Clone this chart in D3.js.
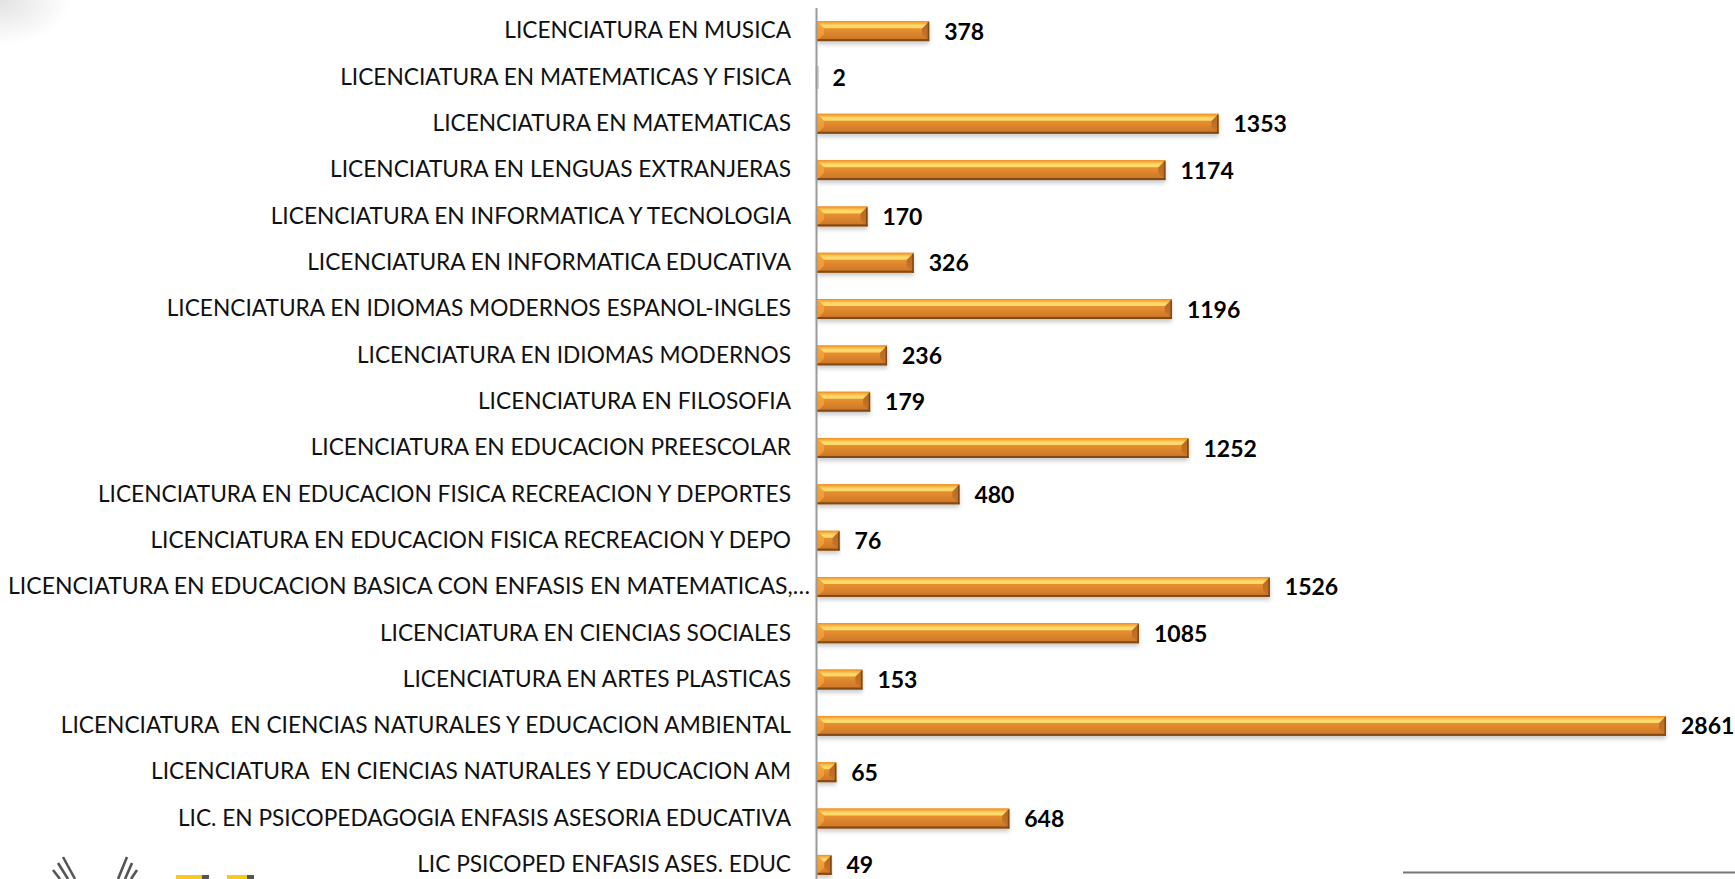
<!DOCTYPE html>
<meta charset="utf-8">
<style>
  html, body { margin: 0; background: #fff; overflow: hidden; }
  text { font-family: Lato, sans-serif; }
</style>
<script src="https://d3js.org/d3.v7.min.js"></script>
<div id="chart"></div>
<script>
// categories, top to bottom
var categories = [
  "LICENCIATURA EN MUSICA",
  "LICENCIATURA EN MATEMATICAS Y FISICA",
  "LICENCIATURA EN MATEMATICAS",
  "LICENCIATURA EN LENGUAS EXTRANJERAS",
  "LICENCIATURA EN INFORMATICA Y TECNOLOGIA",
  "LICENCIATURA EN INFORMATICA EDUCATIVA",
  "LICENCIATURA EN IDIOMAS MODERNOS ESPANOL-INGLES",
  "LICENCIATURA EN IDIOMAS MODERNOS",
  "LICENCIATURA EN FILOSOFIA",
  "LICENCIATURA EN EDUCACION PREESCOLAR",
  "LICENCIATURA EN EDUCACION FISICA RECREACION Y DEPORTES",
  "LICENCIATURA EN EDUCACION FISICA RECREACION Y DEPO",
  "LICENCIATURA EN EDUCACION BASICA CON ENFASIS EN MATEMATICAS,…",
  "LICENCIATURA EN CIENCIAS SOCIALES",
  "LICENCIATURA EN ARTES PLASTICAS",
  "LICENCIATURA  EN CIENCIAS NATURALES Y EDUCACION AMBIENTAL",
  "LICENCIATURA  EN CIENCIAS NATURALES Y EDUCACION AM",
  "LIC. EN PSICOPEDAGOGIA ENFASIS ASESORIA EDUCATIVA",
  "LIC PSICOPED ENFASIS ASES. EDUC"
];
var values = [378, 2, 1353, 1174, 170, 326, 1196, 236, 179, 1252, 480, 76, 1526, 1085, 153, 2861, 65, 648, 49];

var width = 1735, height = 879;
var svg = d3.select("#chart").append("svg")
  .attr("width", width)
  .attr("height", height)
  .style("display", "block");

var x = d3.scaleLinear().domain([0, 2861]).range([817, 1666]);
var y = d3.scaleBand().domain(categories).range([8, 888]).paddingInner(0.57).paddingOuter(0.285);

var defs = svg.append("defs");

// gradients for the bevel: body, lit top, side faces
function vGrad(id, stops) {
  var g = defs.append("linearGradient").attr("id", id).attr("x1", 0).attr("x2", 0).attr("y1", 0).attr("y2", 1);
  g.selectAll("stop").data(stops).enter().append("stop")
    .attr("offset", function(d) { return d[0]; })
    .attr("stop-color", function(d) { return d[1]; });
}
vGrad("bevelBody", [[0, "#f19c35"], [0.45, "#e48c2e"], [1, "#c97327"]]);
vGrad("bevelTop", [[0, "#ec8a22"], [0.28, "#f8b23f"], [0.65, "#fddc70"], [1, "#fdd768"]]);
vGrad("bevelLeft", [[0, "#f6a73c"], [1, "#ee9430"]]);
vGrad("bevelRight", [[0, "#b56a22"], [1, "#c97428"]]);

var blur = defs.append("filter").attr("id", "barShadow").attr("x", "-5%").attr("y", "-30%").attr("width", "110%").attr("height", "180%");
blur.append("feGaussianBlur").attr("stdDeviation", 2);
var soft = defs.append("filter").attr("id", "soft");
soft.append("feGaussianBlur").attr("stdDeviation", 0.7);

// corner shading in the reference background
var corner = defs.append("radialGradient").attr("id", "corner").attr("cx", 0).attr("cy", 0).attr("r", 1);
corner.append("stop").attr("offset", 0).attr("stop-color", "#e2e2e2");
corner.append("stop").attr("offset", 1).attr("stop-color", "#ffffff");
svg.append("rect").attr("width", 70).attr("height", 45).attr("fill", "url(#corner)");

var bevel = 7;   // depth of the mitred top
var bw = y.bandwidth();

function poly(pts) { return d3.line()(pts) + "Z"; }

var rows = svg.selectAll("g.row")
  .data(categories)
  .enter().append("g")
  .attr("class", "row");

// soft shadow under bars
rows.append("rect")
  .attr("x", x(0))
  .attr("y", function(d) { return y(d) + 3; })
  .attr("width", function(d, i) { return x(values[i]) - x(0); })
  .attr("height", bw)
  .attr("fill", "#888")
  .attr("opacity", 0.45)
  .attr("filter", "url(#barShadow)");

// body, the tiny bar only shows as a pale sliver
rows.append("rect")
  .attr("x", x(0))
  .attr("y", function(d) { return y(d); })
  .attr("width", function(d, i) { return x(values[i]) - x(0); })
  .attr("height", bw)
  .attr("fill", function(d, i) { return values[i] > 10 ? "url(#bevelBody)" : "#d9d9d9"; })
  .attr("stroke", function(d, i) { return values[i] > 10 ? "none" : "#d4d4d4"; })
  .attr("stroke-width", 3);

// left and right mitre faces
rows.append("path")
  .attr("d", function(d, i) {
    var x0 = x(0), x1 = x(values[i]), t = y(d);
    var k = Math.min(bevel, (x1 - x0) / 2);
    return poly([[x0, t], [x0 + k, t + k], [x0 + k, t + bw - k], [x0, t + bw]]);
  })
  .attr("fill", function(d, i) { return values[i] > 10 ? "url(#bevelLeft)" : "none"; });
rows.append("path")
  .attr("d", function(d, i) {
    var x0 = x(0), x1 = x(values[i]), t = y(d);
    var k = Math.min(bevel, (x1 - x0) / 2);
    return poly([[x1, t], [x1 - k, t + k], [x1 - k, t + bw - k], [x1, t + bw]]);
  })
  .attr("fill", function(d, i) { return values[i] > 10 ? "url(#bevelRight)" : "none"; });

// lit top face, mitred at both ends
rows.append("path")
  .attr("d", function(d, i) {
    var x0 = x(0), x1 = x(values[i]), t = y(d);
    var k = Math.min(bevel, (x1 - x0) / 2);
    return poly([[x0, t], [x1, t], [x1 - k, t + k], [x0 + k, t + k]]);
  })
  .attr("fill", function(d, i) { return values[i] > 10 ? "url(#bevelTop)" : "none"; });

// dark bottom edge
rows.append("rect")
  .attr("x", x(0))
  .attr("y", function(d) { return y(d) + bw - 2; })
  .attr("width", function(d, i) { return values[i] > 10 ? x(values[i]) - x(0) : 0; })
  .attr("height", 2)
  .attr("fill", "#7f4a15");

// dark right edge
rows.append("rect")
  .attr("x", function(d, i) { return x(values[i]) - 1.5; })
  .attr("y", function(d) { return y(d) + 1; })
  .attr("width", function(d, i) { return values[i] > 10 ? 1.5 : 0; })
  .attr("height", bw - 1)
  .attr("fill", "#7f4a15");

// labels drawn by the axis
var axis = svg.append("g")
  .attr("transform", "translate(816,0)")
  .call(d3.axisLeft(y).tickSize(0).tickPadding(24));
axis.select(".domain").remove();
axis.selectAll("text")
  .style("font-size", function(d) { return d.slice(-1) === "…" ? "23px" : "22.7px"; })
  .style("font-family", "Lato, sans-serif")
  .attr("fill", "#111")
  .style("white-space", "pre")
  // the truncated label runs closer to the axis
  .attr("x", function(d) { return d.slice(-1) === "…" ? -6 : -25; });

svg.append("line")
  .attr("x1", 816.5).attr("x2", 816.5)
  .attr("y1", 8).attr("y2", 879)
  .attr("stroke", "#9a9a9a")
  .attr("stroke-width", 2);

rows.append("text")
  .attr("x", function(d, i) { return x(values[i]) + 15; })
  .attr("y", function(d) { return y(d) + bw / 2 + 0.5; })
  .attr("dy", "0.35em")
  .style("font-size", "23px")
  .style("font-weight", 700)
  .attr("fill", "#000")
  .text(function(d, i) { return values[i]; });

// line at bottom right
svg.append("line")
  .attr("x1", 1403).attr("x2", 1735)
  .attr("y1", 872.5).attr("y2", 872.5)
  .attr("stroke", "#777")
  .attr("stroke-width", 2);

// cut off logo at bottom left: wing feathers and the top of the yellow letters
var logo = svg.append("g").attr("filter", "url(#soft)");
var wings = logo.append("g").attr("fill", "none").attr("stroke", "#555").attr("stroke-width", 2.6);
[[63, 857, 75, 879], [58, 863, 68, 879], [53, 870, 60, 879],
 [127, 857, 118, 879], [132, 863, 125, 879], [137, 870, 131, 879]].forEach(function(w) {
  wings.append("line").attr("x1", w[0]).attr("y1", w[1]).attr("x2", w[2]).attr("y2", w[3]);
});
logo.append("rect").attr("x", 176).attr("y", 875).attr("width", 26).attr("height", 4).attr("fill", "#f6c91e");
logo.append("rect").attr("x", 202).attr("y", 875).attr("width", 7).attr("height", 4).attr("fill", "#555");
logo.append("rect").attr("x", 227).attr("y", 875).attr("width", 20).attr("height", 4).attr("fill", "#f6c91e");
logo.append("rect").attr("x", 247).attr("y", 875).attr("width", 7).attr("height", 4).attr("fill", "#555");
</script>
